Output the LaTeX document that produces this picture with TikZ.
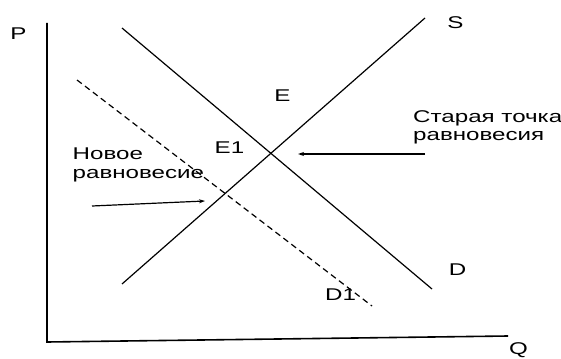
\documentclass[tikz,border=0pt]{standalone}
\usepackage{fontspec}
\setmainfont{Liberation Sans}
\newfontfamily\lblfont[FakeStretch=1.42]{Liberation Sans}
\usetikzlibrary{arrows.meta}
\begin{document}
\begin{tikzpicture}[x=1pt,y=-1pt,
  lbl/.style={font=\lblfont\fontsize{17}{18}\selectfont, inner sep=0pt},
  axisline/.style={line width=1.6pt},
  curve/.style={line width=1.2pt},
  dcurve/.style={line width=1.2pt, dash pattern=on 6pt off 4pt},
  pointer/.style={line width=1.2pt, -{Stealth[length=6pt,width=4pt]}}]
\useasboundingbox (0,0) rectangle (561,358);
% axes
\coordinate (ytop) at (47,23);
\coordinate (orig) at (47,342);
\coordinate (xend) at (508,336);
\draw[axisline] (ytop) -- (orig) -- (xend);
% curves
\coordinate (s0) at (122,284);
\coordinate (s1) at (425,18);
\coordinate (d0) at (122,28);
\coordinate (d1) at (432,289);
\coordinate (e0) at (77,80);
\coordinate (e1) at (372,306);
\draw[curve] (s0) -- (s1);
\draw[curve] (d0) -- (d1);
\draw[dcurve] (e0) -- (e1);
% labels
\node[lbl, anchor=base] (P) at (18.5,40) {P};
\node[lbl, anchor=base] (S) at (455.5,28.5) {S};
\node[lbl, anchor=base] (E) at (282.5,102) {E};
\node[lbl, anchor=base] (E1) at (229.5,153.5) {E1};
\node[lbl, anchor=base] (D) at (457.5,275) {D};
\node[lbl, anchor=base] (D1) at (340.5,300.5) {D1};
\node[lbl, anchor=base] (Q) at (518.5,354) {Q};
\node[lbl, anchor=base west, align=left] (newl) at (72.5,178) {Новое\\равновесие};
\node[lbl, anchor=base west, align=left] (oldl) at (413,141) {Старая точка\\равновесия};
% pointers
\coordinate (oldfrom) at (425,154);
\coordinate (oldto) at (298,154);
\coordinate (newfrom) at (92,206);
\coordinate (newto) at (205,201);
\draw[pointer] (oldfrom) -- (oldto);
\draw[pointer] (newfrom) -- (newto);
\end{tikzpicture}
\end{document}
